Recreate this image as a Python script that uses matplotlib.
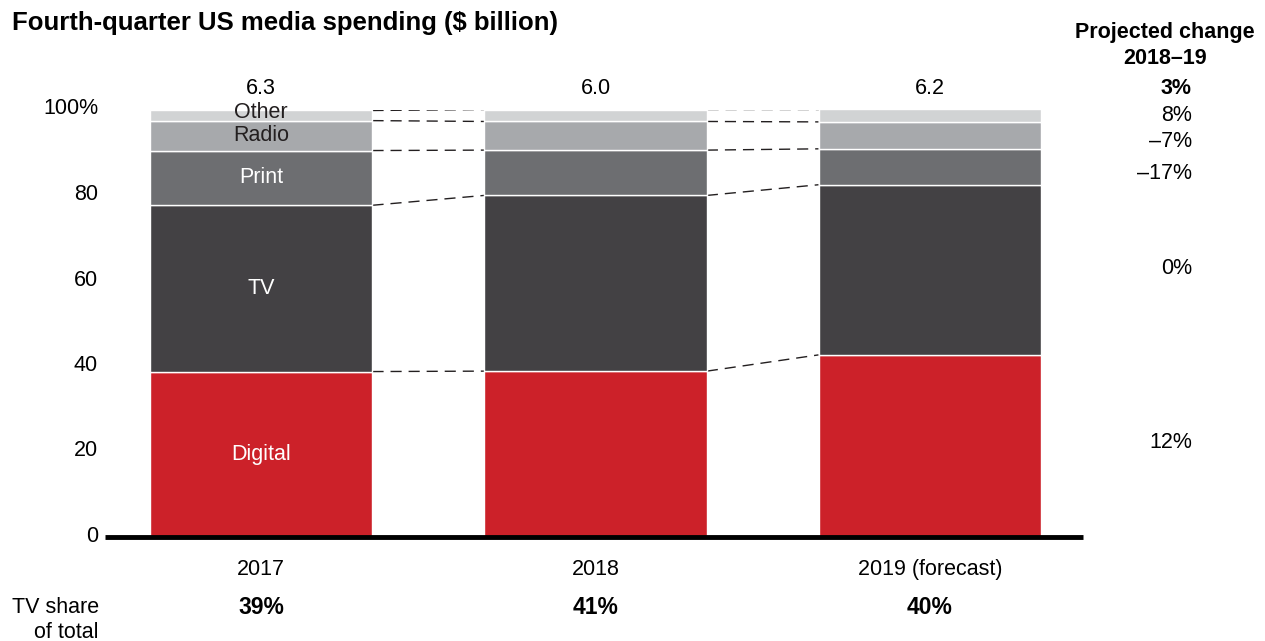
import matplotlib.pyplot as plt
import matplotlib.transforms as mtransforms
import numpy as np

plt.rcParams['font.family'] = ['Liberation Sans', 'DejaVu Sans']

# data (share of total, %)
years = ['2017', '2018', '2019 (forecast)']
totals = ['6.3', '6.0', '6.2']
tv_share = ['39%', '41%', '40%']
segments = ['Digital', 'TV', 'Print', 'Radio', 'Other']
digital = [38.7, 38.8, 42.6]
tv = [38.9, 41.1, 39.8]
printed = [12.8, 10.6, 8.4]
radio = [7.0, 6.7, 6.3]
other = [2.6, 2.8, 2.9]
changes = ['12%', '0%', '\u201317%', '\u20137%', '8%']
total_change = '3%'

colors = ['#cc2129', '#434144', '#6d6e71', '#a7a9ac', '#d1d3d4']
text_colors = ['white', 'white', 'white', '#231f20', '#231f20']

values = np.array([digital, tv, printed, radio, other])
x = np.arange(len(years))
w = 0.666
fs = 15.5

fig = plt.figure(figsize=(12.65, 6.41), dpi=100)
ax = fig.add_axes([105/1265, 104/641, 978/1265, (537-109.5)/641])

bottoms = np.zeros(len(years))
for i, seg in enumerate(segments):
    ax.bar(x, values[i], w, bottom=bottoms, color=colors[i],
           edgecolor='white', linewidth=1, zorder=2)
    # label inside first bar
    yc = bottoms[0] + values[i][0]/2
    if seg == 'Other':
        yc += 0.7
    ax.text(x[0], yc, seg, ha='center', va='center', fontsize=fs,
            color=text_colors[i], zorder=3)
    bottoms = bottoms + values[i]

# dashed connectors between bars
tops = np.cumsum(values, axis=0)
for row in tops:
    for j in range(len(years) - 1):
        ax.plot([x[j] + w/2, x[j+1] - w/2], [row[j], row[j+1]],
                color='#231f20', lw=1, ls=(0, (8, 5)), zorder=1)

# totals above bars, years and TV share below
for j in range(len(years)):
    ax.text(x[j], 105, totals[j], ha='center', va='center', fontsize=fs)
    ax.text(x[j], -7.7, years[j], ha='center', va='center', fontsize=fs)
    ax.text(x[j], -16.4, tv_share[j], ha='center', va='center',
            fontsize=fs + 1, fontweight='bold')

ax.text(-0.485, -16.4, 'TV share', ha='right', va='center', fontsize=fs)
ax.text(-0.485, -22.3, 'of total', ha='right', va='center', fontsize=fs)

# projected change column
xc = 2.703
xr = 2.784
ax.text(xc, 118.1, 'Projected change', ha='center', va='center',
        fontsize=fs, fontweight='bold')
ax.text(xc, 112.0, '2018\u201319', ha='center', va='center',
        fontsize=fs, fontweight='bold')
ax.text(xr, 105, total_change, ha='right', va='center', fontsize=fs,
        fontweight='bold')
change_y = [22.2, 62.9, 85.1, 92.4, 98.7]
for lab, yy in zip(changes, change_y):
    ax.text(xr, yy, lab, ha='right', va='center', fontsize=fs)

ax.set_xlim(-0.467, 2.458)
ax.set_ylim(0, 100)
ax.set_yticks([0, 20, 40, 60, 80, 100])
ax.set_yticklabels(['0', '20', '40', '60', '80', '100%'], fontsize=fs)
ax.set_xticks([])
ax.tick_params(axis='y', length=0, pad=5)
offset = mtransforms.ScaledTranslation(0, 3/100, fig.dpi_scale_trans)
for lab in ax.get_yticklabels():
    lab.set_transform(lab.get_transform() + offset)
for s in ['top', 'right', 'left']:
    ax.spines[s].set_visible(False)
ax.spines['bottom'].set_linewidth(3.5)
ax.spines['bottom'].set_capstyle('butt')

fig.text(12/1265, 1 - 23/641, 'Fourth-quarter US media spending ($ billion)',
         ha='left', va='center', fontsize=18.5, fontweight='bold')

fig.savefig('out.png', dpi=100)
